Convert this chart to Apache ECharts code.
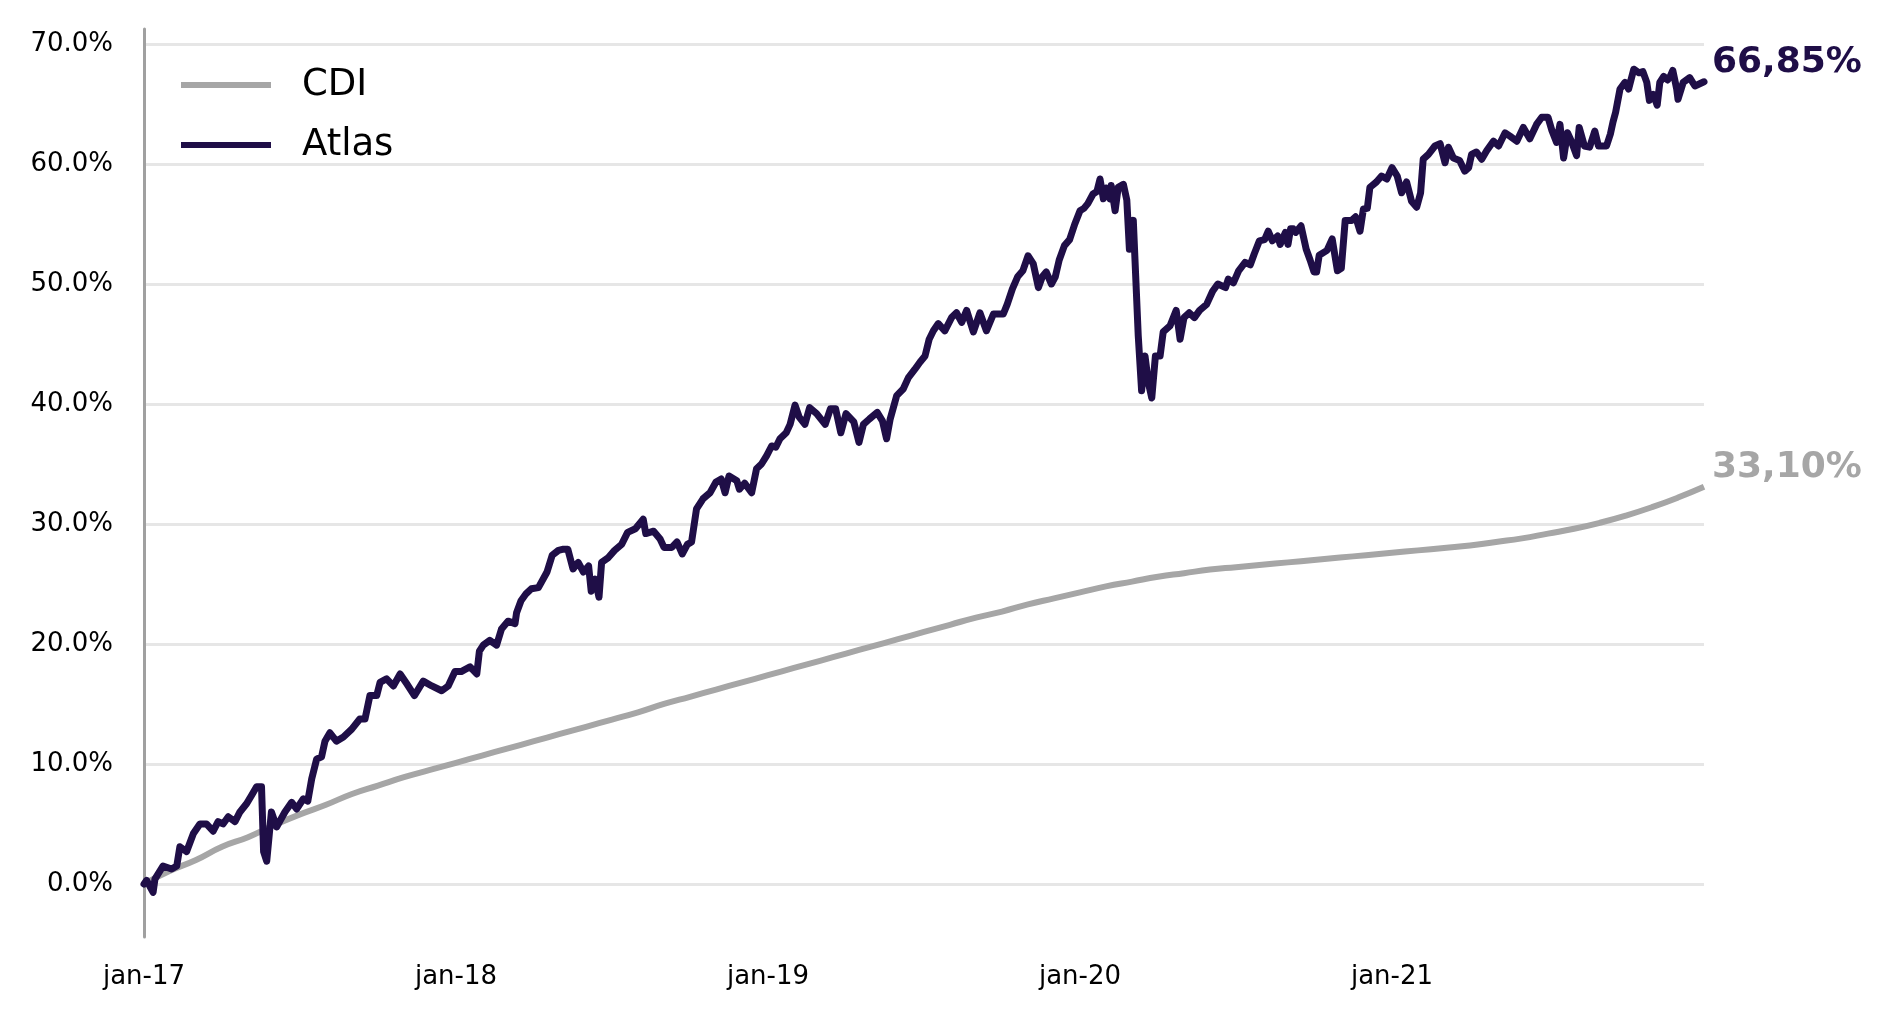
<!DOCTYPE html>
<html lang="pt">
<head>
    <meta charset="UTF-8">
    <title>Atlas x CDI</title>
    <script src="https://cdn.jsdelivr.net/npm/echarts@6/dist/echarts.min.js"></script>
    <style>
        html, body { margin: 0; padding: 0; background: #fff; }
        #chart { width: 1893px; height: 1023px; }
    </style>
</head>
<body>
<div id="chart"></div>
<script>
    // eixo x em meses desde jan-17
    var xTickLabels = ['jan-17', 'jan-18', 'jan-19', 'jan-20', 'jan-21'];

    // CDI acumulado (%), um ponto por mes
    var cdiValues = [0, 1.1, 2.0, 3.1, 3.9, 4.9, 5.8, 6.6, 7.5, 8.2, 8.9, 9.5, 10.1,
        10.7, 11.3, 11.9, 12.5, 13.1, 13.7, 14.3, 15.0, 15.6, 16.2, 16.8, 17.4,
        18.0, 18.6, 19.2, 19.8, 20.4, 21.0, 21.6, 22.2, 22.7, 23.3, 23.8, 24.3,
        24.8, 25.2, 25.6, 25.9, 26.2, 26.4, 26.6, 26.8, 27.0, 27.2, 27.4, 27.6,
        27.8, 28.0, 28.2, 28.5, 28.8, 29.2, 29.6, 30.1, 30.7, 31.4, 32.2, 33.1];

    // Atlas acumulado (%), [mes, valor]
    var atlas2017 = [[0,0],[0.1,0.3],[0.35,-0.7],[0.42,0.4],[0.73,1.5],[1.06,1.25],[1.26,1.5],[1.38,3.1],
        [1.64,2.7],[1.9,4.2],[2.15,5.0],[2.4,5.0],[2.66,4.4],[2.85,5.2],[3.04,5.0],[3.24,5.6],[3.5,5.2],
        [3.69,6.0],[3.95,6.7],[4.14,7.4],[4.33,8.1],[4.52,8.1],[4.6,2.7],[4.72,1.9],[4.9,6.0],[5.1,4.75],
        [5.42,6.0],[5.68,6.8],[5.87,6.25],[6.13,7.1],[6.3,6.9],[6.45,8.75],[6.64,10.4],[6.83,10.6],
        [6.96,11.9],[7.15,12.6],[7.4,11.9],[7.67,12.25],[7.99,12.9],[8.3,13.75],[8.5,13.75],[8.69,15.7],
        [8.95,15.7],[9.08,16.8],[9.33,17.1],[9.59,16.5],[9.85,17.5],[10.1,16.7],[10.4,15.7],[10.74,16.9],
        [11.07,16.5],[11.45,16.1],[11.7,16.5],[11.96,17.7]];
    var atlas2018 = [[12.2,17.7],[12.54,18.1],[12.8,17.5],[12.9,19.4],[13.05,19.9],[13.3,20.3],[13.56,19.9],
        [13.75,21.25],[14.0,21.9],[14.27,21.7],[14.33,22.6],[14.5,23.6],[14.7,24.2],[14.9,24.6],[15.17,24.7],
        [15.5,26.0],[15.7,27.4],[15.94,27.8],[16.13,27.9],[16.3,27.9],[16.5,26.25],[16.7,26.8],[16.9,26.0],
        [17.1,26.5],[17.2,24.4],[17.35,25.4],[17.5,23.9],[17.6,26.8],[17.86,27.2],[18.1,27.8],[18.37,28.3],
        [18.6,29.3],[18.9,29.6],[19.2,30.4],[19.3,29.2],[19.6,29.4],[19.85,28.75],[20.0,28.05],[20.3,28.05],
        [20.5,28.5],[20.7,27.5],[20.9,28.3],[21.06,28.5],[21.25,31.25],[21.5,32.1],[21.77,32.6],[22.0,33.5],
        [22.2,33.75],[22.35,32.6],[22.5,34.0],[22.8,33.6],[22.9,32.9],[23.1,33.4],[23.37,32.6],[23.56,34.6],
        [23.75,35.0],[23.95,35.7]];
    var atlas2019 = [[24.14,36.5],[24.3,36.4],[24.46,37.1],[24.7,37.6],[24.85,38.3],[25.04,39.9],[25.2,38.9],
        [25.42,38.3],[25.6,39.7],[25.87,39.2],[26.2,38.3],[26.4,39.6],[26.6,39.6],[26.8,37.6],[27.0,39.2],
        [27.3,38.5],[27.5,36.8],[27.67,38.3],[27.9,38.75],[28.2,39.3],[28.4,38.6],[28.56,37.1],[28.7,38.75],
        [28.95,40.7],[29.2,41.25],[29.4,42.2],[29.65,42.9],[29.85,43.5],[30.04,44.0],[30.2,45.4],[30.36,46.1],
        [30.55,46.7],[30.8,46.1],[31.06,47.2],[31.25,47.6],[31.45,46.8],[31.64,47.8],[31.9,46.0],[32.15,47.6],
        [32.4,46.1],[32.67,47.5],[33.05,47.5],[33.2,48.3],[33.4,49.6],[33.6,50.6],[33.8,51.1],[34.0,52.35],
        [34.2,51.7],[34.4,49.7],[34.55,50.6],[34.7,51.0],[34.9,50.0],[35.05,50.6],[35.2,52.0],[35.4,53.2],
        [35.6,53.7],[35.8,55.0]];
    var atlas2020 = [[36.0,56.1],[36.15,56.3],[36.3,56.7],[36.5,57.5],[36.65,57.7],[36.77,58.75],[36.9,57.1],
        [37.0,58.0],[37.15,57.1],[37.2,58.2],[37.35,56.1],[37.47,58.05],[37.67,58.3],[37.8,57.0],[37.9,52.9],
        [38.05,55.3],[38.1,55.3],[38.24,45.7],[38.37,41.1],[38.5,44.0],[38.63,41.8],[38.76,40.5],[38.9,44.0],
        [39.08,44.0],[39.2,46.0],[39.46,46.5],[39.7,47.8],[39.85,45.4],[40.0,47.2],[40.2,47.6],[40.4,47.2],
        [40.6,47.8],[40.87,48.3],[41.1,49.4],[41.3,50.0],[41.6,49.7],[41.7,50.4],[41.9,50.1],[42.1,51.1],
        [42.35,51.8],[42.55,51.6],[42.7,52.5],[42.9,53.6],[43.1,53.7],[43.24,54.4],[43.4,53.6],[43.6,54.0],
        [43.7,53.3],[43.9,54.3],[44.0,53.3],[44.1,54.6],[44.2,54.6],[44.3,54.3],[44.5,54.85],[44.7,52.9],
        [44.85,52.0],[45.0,51.0],[45.1,51.0],[45.2,52.4],[45.5,52.8],[45.7,53.75],[45.9,51.1],[46.05,51.3],
        [46.2,55.3],[46.45,55.3],[46.6,55.6],[46.77,54.4],[46.9,56.25],[47.05,56.3],[47.15,58.05],[47.4,58.5],
        [47.6,59.0],[47.8,58.75]];
    var atlas2021 = [[48.0,59.7],[48.2,59.0],[48.37,57.6],[48.56,58.5],[48.75,56.9],[48.95,56.4],[49.1,57.6],
        [49.2,60.4],[49.4,60.8],[49.65,61.5],[49.85,61.7],[50.04,60.1],[50.17,61.4],[50.36,60.5],[50.6,60.3],
        [50.8,59.4],[50.95,59.7],[51.06,60.8],[51.25,61.0],[51.45,60.4],[51.64,61.1],[51.9,61.9],[52.1,61.5],
        [52.35,62.6],[52.55,62.3],[52.8,61.9],[53.05,63.05],[53.3,62.1],[53.56,63.3],[53.76,63.9],[54.0,63.9],
        [54.15,62.8],[54.33,61.8],[54.46,63.3],[54.6,60.5],[54.75,62.6],[54.9,61.9],[55.1,60.7],[55.2,63.05],
        [55.4,61.5],[55.6,61.4],[55.8,62.75],[55.94,61.5],[56.25,61.5],[56.4,62.5],[56.5,63.5],[56.6,64.3],
        [56.77,66.25],[56.96,66.8],[57.1,66.25],[57.3,67.9],[57.5,67.6],[57.65,67.7],[57.8,66.8],[57.9,65.3],
        [58.05,65.8],[58.2,64.9],[58.3,66.8],[58.45,67.3],[58.6,67.0],[58.7,67.3],[58.8,67.8],[58.95,66.25],
        [59.0,65.4],[59.2,66.8],[59.45,67.2],[59.65,66.5],[60,66.85]];

    var atlasData = atlas2017.concat(atlas2018, atlas2019, atlas2020, atlas2021);
    var cdiData = cdiValues.map(function (v, i) { return [i, v]; });

    var corAtlas = '#1f0e47';
    var corCdi = '#a6a6a6';
    var fonte = 'DejaVu Sans';

    function rotuloFinal(v) {
        return v.toFixed(2).replace('.', ',') + '%';
    }

    var mychart = echarts.init(document.getElementById('chart'));
    mychart.setOption({
        animation: false,
        textStyle: { fontFamily: fonte },
        grid: { left: 144, right: 189, top: 29, bottom: 86 },
        legend: {
            data: ['CDI', 'Atlas'],
            orient: 'vertical',
            left: 176,
            top: 58,
            icon: 'rect',
            itemWidth: 90,
            itemHeight: 6,
            itemGap: 16,
            textStyle: { fontFamily: fonte, fontSize: 37, color: '#000', lineHeight: 44, padding: [0, 0, 0, 26] }
        },
        xAxis: {
            type: 'value',
            min: 0,
            max: 60,
            interval: 12,
            axisLine: { show: false },
            axisTick: { show: false },
            splitLine: { show: false },
            axisLabel: {
                showMaxLabel: false,
                margin: 27,
                fontSize: 26,
                color: '#000',
                fontFamily: fonte,
                formatter: function (v) { return xTickLabels[v / 12] || ''; }
            }
        },
        yAxis: {
            type: 'value',
            min: -4.42,
            max: 71.25,
            splitNumber: 8,
            minInterval: 10,
            maxInterval: 10,
            axisLine: { show: true, lineStyle: { color: '#a0a0a0', width: 3 } },
            axisTick: { show: false },
            splitLine: { show: true, showMinLine: false, showMaxLine: false, lineStyle: { color: '#e6e6e6', width: 3 } },
            axisLabel: {
                showMinLabel: false,
                showMaxLabel: false,
                margin: 31,
                fontSize: 26,
                color: '#000',
                fontFamily: fonte,
                padding: [4, 0, 0, 0],
                formatter: function (v) {
                    if (Math.abs(v % 10) > 1e-6) return '';
                    return (v === 0 ? 0 : v).toFixed(1) + '%';
                }
            }
        },
        series: [{
            name: 'CDI',
            type: 'line',
            data: cdiData,
            smooth: true,
            symbol: 'none',
            color: corCdi,
            lineStyle: { color: corCdi, width: 6 },
            z: 2,
            endLabel: {
                show: true,
                formatter: function () { return rotuloFinal(cdiValues[cdiValues.length - 1]); },
                color: corCdi,
                fontFamily: fonte,
                fontWeight: 'bold',
                fontSize: 36,
                distance: 8,
                offset: [0, -19]
            }
        }, {
            name: 'Atlas',
            type: 'line',
            data: atlasData,
            symbol: 'none',
            color: corAtlas,
            lineStyle: { color: corAtlas, width: 7, join: 'round', cap: 'round' },
            z: 3,
            endLabel: {
                show: true,
                formatter: function () { return rotuloFinal(atlasData[atlasData.length - 1][1]); },
                color: corAtlas,
                fontFamily: fonte,
                fontWeight: 'bold',
                fontSize: 36,
                distance: 8,
                offset: [0, -19]
            }
        }]
    });
</script>
</body>
</html>
